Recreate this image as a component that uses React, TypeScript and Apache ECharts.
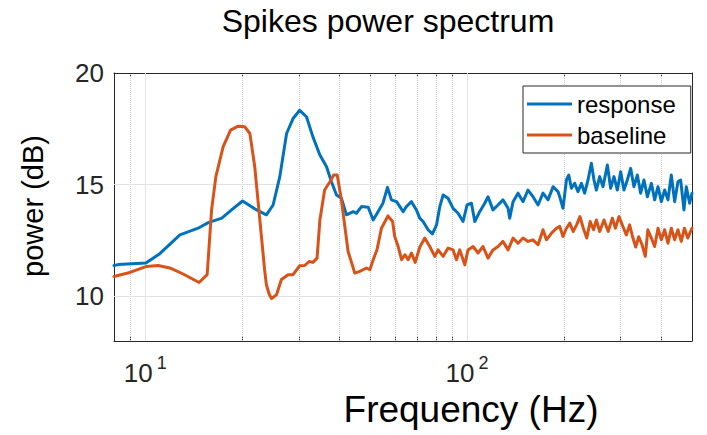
import React, { useEffect, useRef } from 'react';
import * as echarts from 'echarts';

// ---- data ----
const responseFreq = [
  8, 8.24, 10.05, 11.1, 12.82, 14.6, 15.7, 17.3, 18.55, 20.07, 22.2, 23.8, 24.97, 26.2, 27.5, 28.8,
  30.2, 31.7, 33.2, 34.9, 36.6, 37.9, 39.3, 40.7, 42.2, 44.3, 45.3, 47.0, 49.3, 51.1, 52.9, 54.8,
  56.6, 58.2, 60.4, 63.3, 64.8, 67.2, 69.7, 71.3, 73.0, 75.7, 78.1, 80.4, 82.3, 84.3, 87.3, 90.5,
  93.8, 97.2, 100, 103.2, 105.7, 109.5, 113.5, 116.2, 120.4, 124.8, 129.3, 134.1, 135.7, 139, 144,
  149.3, 154.7, 160.3, 166.2, 172.2, 178.5, 185, 191.7, 194.1, 198.7, 203.6, 207, 211, 216, 221.2,
  226.6, 232, 237.6, 243.4, 248, 252.3, 258.3, 264.5, 272.9, 279.4, 286.1, 293.1, 300.1, 307.3,
  314.8, 322.4, 330.1, 338.2, 346.3, 354.6, 363.3, 373.9, 382.8, 392, 401.6, 411.2, 421, 431.3,
  441.6, 452.2, 461, 472, 480, 491.6, 500,
];
const responseDb = [
  11.38, 11.42, 11.49, 11.91, 12.75, 13.05, 13.3, 13.5, 13.87, 14.27, 13.87, 13.65, 14.09, 15.36, 17.29, 17.96,
  18.33, 18.04, 17.14, 16.33, 15.8, 15.13, 14.54, 14.39, 13.65, 13.79, 13.72, 14.02, 13.99, 13.42, 13.79, 14.17,
  14.88, 14.32, 14.24, 13.79, 14.02, 14.24, 13.85, 13.5, 13.35, 12.98, 12.8, 13.2, 14.02, 14.54, 14.39, 13.94,
  13.72, 13.35, 14.09, 14.17, 13.35, 13.79, 14.17, 14.46, 13.87, 14.09, 14.32, 13.94, 13.5, 14.24, 14.62,
  14.24, 14.76, 14.46, 14.09, 14.62, 14.32, 14.91, 14.69, 14.46, 13.94, 15.21, 15.43, 14.84, 15.06, 14.69,
  15.06, 14.62, 15.21, 15.96, 15.21, 14.76, 15.36, 14.91, 15.88, 14.84, 15.36, 14.76, 15.58, 14.76,
  15.21, 15.73, 14.91, 15.43, 14.62, 15.21, 14.46, 15.06, 14.32, 14.91, 14.24, 14.76, 14.32, 15.43,
  14.24, 15.13, 15.21, 13.87, 14.91, 14.17, 14.62,
];
const baselineFreq = [
  8, 8.96, 10.1, 10.97, 11.93, 13.12, 14.71, 15.58, 16.08, 16.58, 17.47, 18.42, 19.45, 20.4, 21.15, 21.9,
  22.7, 23.5, 23.8, 24.3, 24.7, 25.6, 26.5, 27.8, 28.8, 30.2, 31.3, 32.3, 33.2, 34.2, 34.9, 36.1,
  37.5, 38.5, 39.5, 40.7, 42.7, 44.8, 46.4, 48.7, 49.9, 51.1, 52.5, 54.2, 56.8, 58.7, 59.6, 61.1,
  62.6, 64.1, 65.6, 67.2, 69, 71.3, 73.9, 76.6, 79.4, 81.3, 84.3, 87.3, 90.5, 92.7, 94.9, 98.4,
  100.7, 104.4, 108.2, 112.1, 116.2, 120.4, 124.8, 129.3, 134.1, 139, 144, 149.3, 154.7, 160.3, 166.2,
  172.2, 176.5, 183, 189.6, 194.1, 198.7, 203.6, 208.6, 213.7, 219, 224.3, 229.8, 235.5, 241.3, 247.2,
  252.3, 258.3, 266.4, 274.5, 282.8, 289, 296.6, 305, 312.5, 320, 327.7, 334.3, 341.6, 349.7, 358,
  364.5, 373.9, 382.8, 392, 401.6, 411.2, 421, 431.3, 441.6, 452.2, 463, 473.7, 485, 500,
];
const baselineDb = [
  10.89, 11.07, 11.34, 11.38, 11.27, 11.0, 10.62, 10.97, 13.87, 15.36, 16.7, 17.44, 17.62, 17.59, 17.29, 15.8,
  13.45, 11.19, 10.52, 10.08, 9.9, 10.08, 10.75, 10.97, 10.97, 11.37, 11.38, 11.56, 11.52, 11.71, 13.42, 14.76,
  15.13, 15.43, 15.43, 14.32, 12.01, 11.04, 11.12, 11.27, 11.19, 11.64, 12.08, 13.05, 13.6, 13.35, 12.68, 12.23,
  11.64, 11.86, 11.64, 11.94, 11.52, 12.2, 12.61, 12.23, 11.79, 12.08, 11.79, 12.16, 12.08, 11.64, 12.08, 11.41,
  12.08, 12.23, 11.94, 12.23, 11.71, 12.08, 12.23, 12.46, 12.08, 12.61, 12.38, 12.61, 12.46, 12.53, 12.31,
  12.98, 12.53, 12.83, 13.05, 13.13, 12.68, 13.05, 13.28, 12.9, 13.2, 13.57, 13.05, 12.61, 13.35, 12.98,
  13.42, 12.9, 13.42, 12.9, 13.5, 13.05, 13.57, 13.13, 12.75, 13.2, 12.61, 12.21, 12.67, 12.31, 11.79,
  12.98, 12.61, 12.23, 13.05, 12.53, 12.98, 12.38, 13.05, 12.53, 12.98, 12.46, 13.05, 12.61, 13.05,
];
const seriesNames = ['response', 'baseline'];
const xRange = [8, 500];
const yRange = [8, 20];
const xMajorTicks = [10, 100];
const xMinorTicks = [9, 20, 30, 40, 50, 60, 70, 80, 90, 200, 300, 400];
const yTicks = [10, 15, 20];
const yGridLines = [10, 15];
const titleText = 'Spikes power spectrum';
const xLabelText = 'Frequency (Hz)';
const yLabelText = 'power (dB)';

const FONT = '"Liberation Sans", Arial, Helvetica, sans-serif';
const AXIS = '#262626';
const BLUE = '#0072BD';
const ORANGE = '#D95319';

const GRID = { left: 114, top: 73, width: 578, height: 268 };

export default function App() {
  const ref = useRef<HTMLDivElement>(null);

  useEffect(() => {
    if (!ref.current) return;
    const chart = echarts.init(ref.current, undefined, { renderer: 'svg' });

    const pairs = (xs: number[], ys: number[]) => xs.map((x, i) => [x, ys[i]]);

    const xBase = {
      type: 'log' as const,
      logBase: 10,
      min: xRange[0],
      max: xRange[1],
      gridIndex: 0,
      splitLine: { show: false },
      minorTick: { show: false },
      minorSplitLine: { show: false },
    };
    const yBase = {
      type: 'value' as const,
      min: yRange[0],
      max: yRange[1],
      gridIndex: 0,
      splitLine: { show: false },
    };

    const supFormatter = (v: number) => `{b|10}{s|${Math.round(Math.log10(v))}}`;

    const option: any = {
      animation: false,
      grid: GRID,
      xAxis: [
        {
          ...xBase,
          position: 'bottom',
          axisLine: { show: true, onZero: false, lineStyle: { color: AXIS, width: 1 } },
          axisTick: { show: true, inside: true, length: 7, customValues: xMajorTicks, lineStyle: { color: AXIS } },
          axisLabel: {
            show: true,
            customValues: xMajorTicks,
            margin: 19,
            formatter: supFormatter,
            rich: {
              b: { fontSize: 26, lineHeight: 26, fontFamily: FONT, color: AXIS, verticalAlign: 'bottom' },
              s: { fontSize: 18, lineHeight: 18, fontFamily: FONT, color: AXIS, verticalAlign: 'bottom', padding: [0, 0, 14, 4] },
            },
          },
        },
        {
          ...xBase,
          position: 'bottom',
          axisLine: { show: false, onZero: false },
          axisTick: { show: true, inside: true, length: 4, customValues: xMinorTicks, lineStyle: { color: AXIS } },
          axisLabel: { show: false },
        },
        {
          ...xBase,
          position: 'top',
          axisLine: { show: true, onZero: false, lineStyle: { color: AXIS, width: 1 } },
          axisTick: { show: true, inside: true, length: 7, customValues: xMajorTicks, lineStyle: { color: AXIS } },
          axisLabel: { show: false },
        },
        {
          ...xBase,
          position: 'top',
          axisLine: { show: false, onZero: false },
          axisTick: { show: true, inside: true, length: 4, customValues: xMinorTicks, lineStyle: { color: AXIS } },
          axisLabel: { show: false },
        },
      ],
      yAxis: [
        {
          ...yBase,
          position: 'left',
          axisLine: { show: true, onZero: false, lineStyle: { color: AXIS, width: 1 } },
          axisTick: { show: true, inside: true, length: 6, customValues: yTicks, lineStyle: { color: AXIS } },
          axisLabel: {
            show: true,
            customValues: yTicks,
            margin: 10,
            fontSize: 26,
            fontFamily: FONT,
            color: AXIS,
          },
        },
        {
          ...yBase,
          position: 'right',
          axisLine: { show: true, onZero: false, lineStyle: { color: AXIS, width: 1 } },
          axisTick: { show: true, inside: true, length: 6, customValues: yTicks, lineStyle: { color: AXIS } },
          axisLabel: { show: false },
        },
      ],
      legend: {
        orient: 'vertical',
        left: 523,
        top: 86,
        data: seriesNames,
        icon: 'rect',
        itemWidth: 45,
        itemHeight: 3,
        itemGap: 3,
        itemTextGap: 4,
        padding: [4, 15, 4, 4],
        backgroundColor: '#ffffff',
        borderColor: AXIS,
        borderWidth: 1,
        borderRadius: 0,
        textStyle: { fontSize: 24, lineHeight: 28, fontFamily: FONT, color: '#000' },
        selectedMode: false,
      },
      series: [
        {
          name: 'grid',
          type: 'line',
          data: [],
          silent: true,
          z: 1,
          markLine: {
            silent: true,
            z: 1,
            symbol: ['none', 'none'],
            label: { show: false },
            emphasis: { disabled: true },
            data: [
              ...xMinorTicks.map((v) => ({ xAxis: v, lineStyle: { type: 'dotted', color: '#c6c6c6', width: 1 } })),
              ...xMajorTicks.map((v) => ({ xAxis: v, lineStyle: { type: 'solid', color: '#e2e2e2', width: 1 } })),
              ...yGridLines.map((v) => ({ yAxis: v, lineStyle: { type: 'solid', color: '#e2e2e2', width: 1 } })),
            ],
          },
        },
        {
          name: seriesNames[0],
          type: 'line',
          data: pairs(responseFreq, responseDb),
          showSymbol: false,
          symbol: 'none',
          color: BLUE,
          z: 3,
          lineStyle: { width: 3, color: BLUE, join: 'round', cap: 'round' },
        },
        {
          name: seriesNames[1],
          type: 'line',
          data: pairs(baselineFreq, baselineDb),
          showSymbol: false,
          symbol: 'none',
          color: ORANGE,
          z: 3,
          lineStyle: { width: 3, color: ORANGE, join: 'round', cap: 'round' },
        },
      ],
      graphic: [
        {
          type: 'text',
          x: 388,
          y: 21,
          style: { text: titleText, fontSize: 32, fontFamily: FONT, fill: '#000', align: 'center', verticalAlign: 'middle' },
        },
        {
          type: 'text',
          x: 471,
          y: 409,
          style: { text: xLabelText, fontSize: 37, fontFamily: FONT, fill: '#000', align: 'center', verticalAlign: 'middle' },
        },
        {
          type: 'text',
          x: 33,
          y: 206,
          rotation: Math.PI / 2,
          style: { text: yLabelText, fontSize: 29, fontFamily: FONT, fill: '#000', align: 'center', verticalAlign: 'middle' },
        },
      ],
    };

    chart.setOption(option);
    return () => chart.dispose();
  }, []);

  return (
    <div
      ref={ref}
      style={{ position: 'fixed', left: 0, top: 0, width: 707, height: 435, background: '#fff' }}
    />
  );
}
